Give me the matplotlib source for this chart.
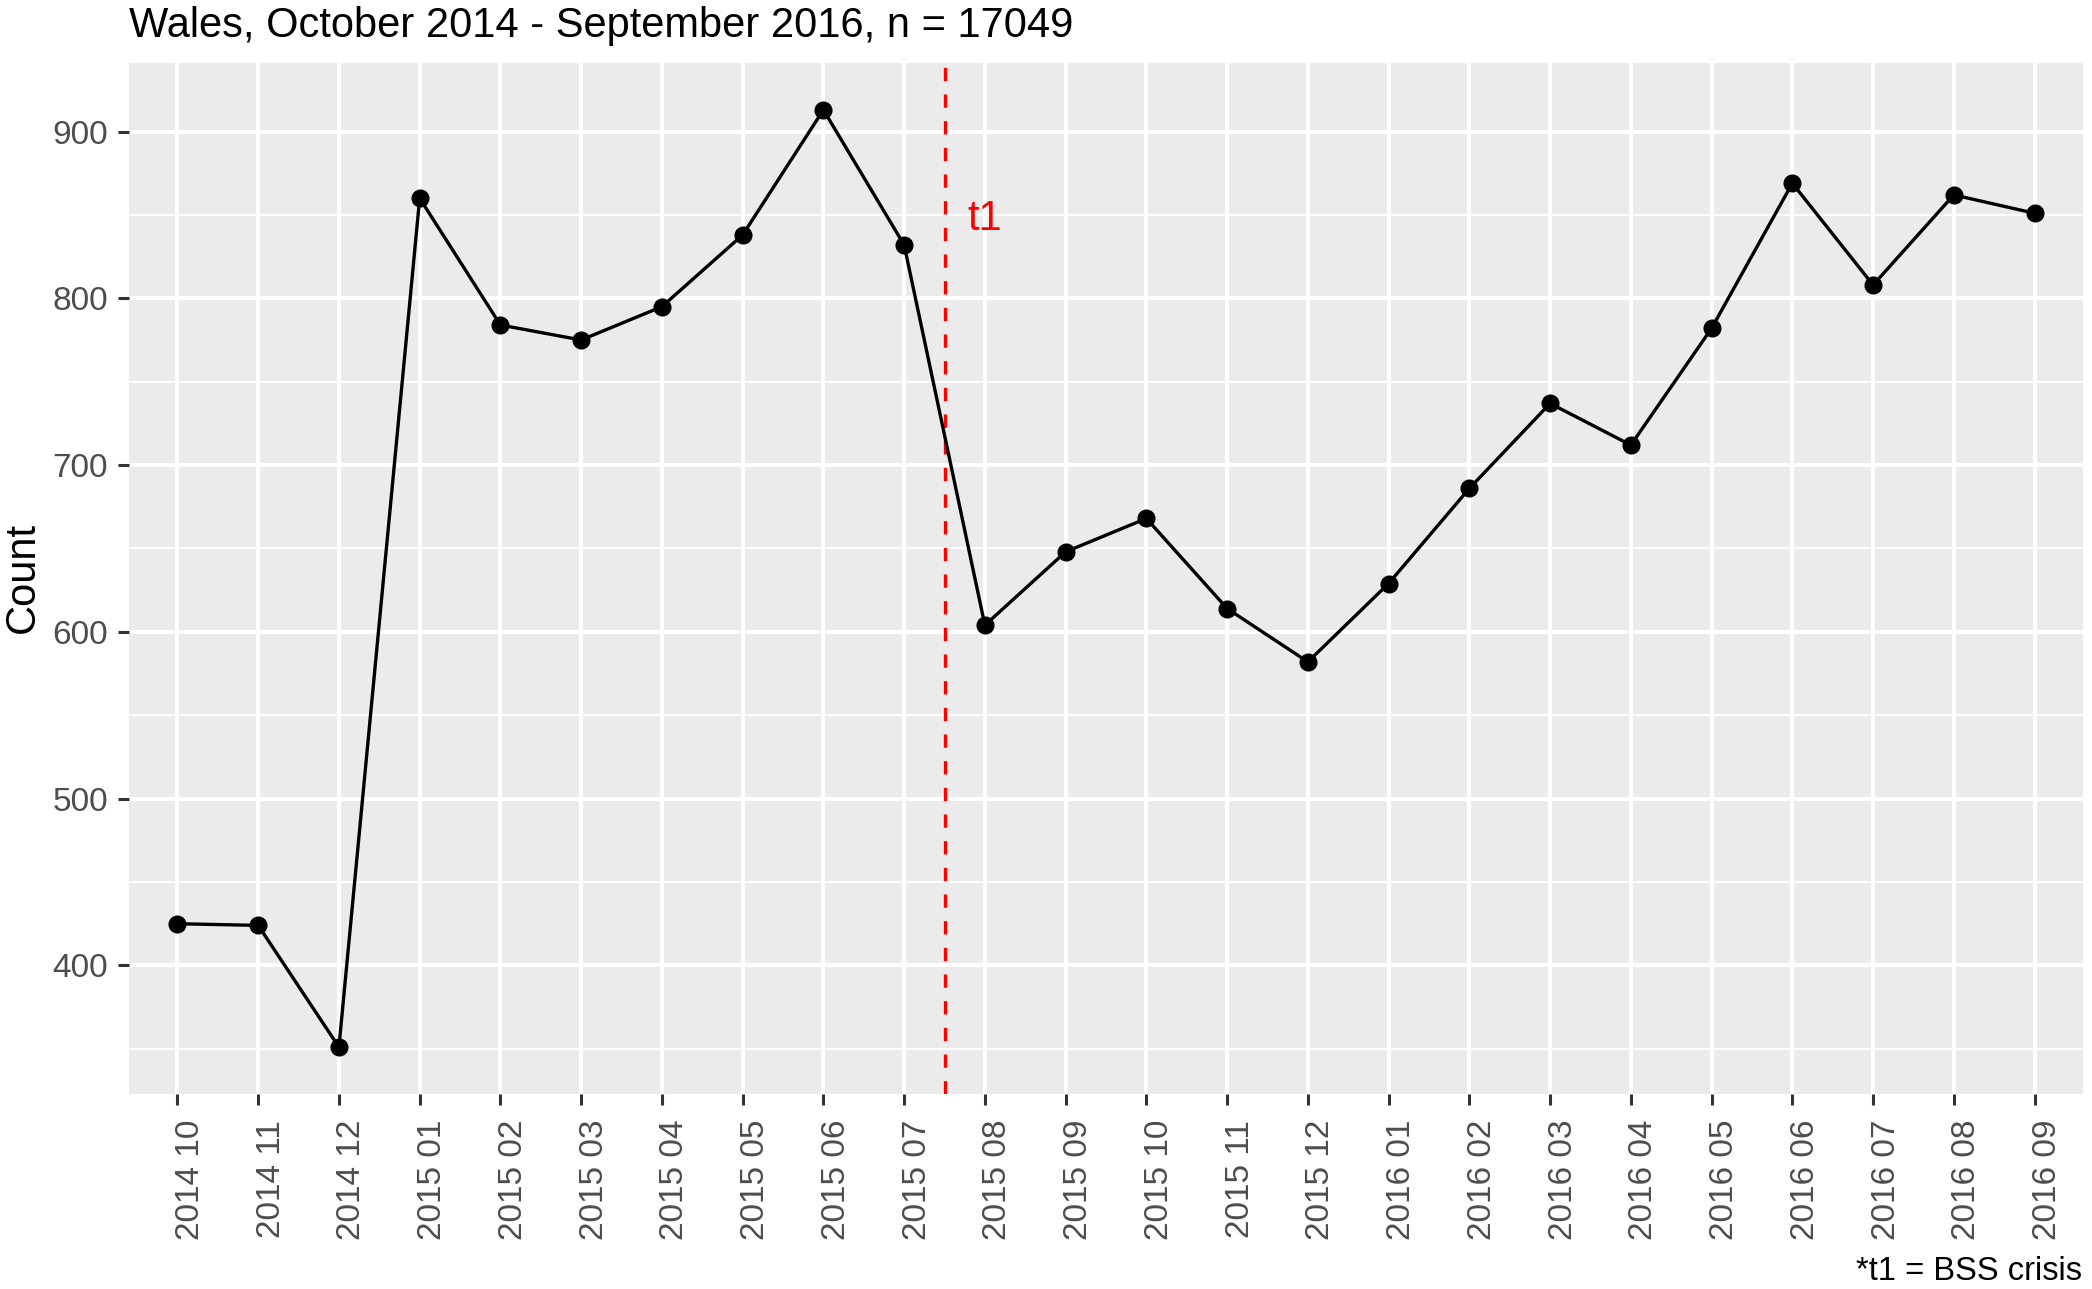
import matplotlib
matplotlib.use("Agg")
import matplotlib.pyplot as plt
from matplotlib.ticker import MultipleLocator, FixedLocator
from matplotlib.transforms import ScaledTranslation

plt.rcParams['font.family'] = ['Liberation Sans', 'DejaVu Sans']

months = ["2014 10", "2014 11", "2014 12",
          "2015 01", "2015 02", "2015 03", "2015 04", "2015 05", "2015 06",
          "2015 07", "2015 08", "2015 09", "2015 10", "2015 11", "2015 12",
          "2016 01", "2016 02", "2016 03", "2016 04", "2016 05", "2016 06",
          "2016 07", "2016 08", "2016 09"]
counts = [425, 424, 351,
          860, 784, 775, 795, 838, 913,
          832, 604, 648, 668, 614, 582,
          629, 686, 737, 712, 782, 869,
          808, 862, 851]
event_pos = 10.5
event_label = "t1"
event_label_x = 11
event_label_y = 850
title = "Wales, October 2014 - September 2016, n = 17049"
ylabel = "Count"
caption = "*t1 = BSS crisis"

W, H = 2092, 1289
fig = plt.figure(figsize=(W / 100, H / 100), dpi=100)
left, right, top, bottom = 129, 2083, 63, 1094
ax = fig.add_axes([left / W, (H - bottom) / H, (right - left) / W, (bottom - top) / H])
ax.set_facecolor("#EBEBEB")
for s in ax.spines.values():
    s.set_visible(False)

x = list(range(1, len(months) + 1))
lo, hi = min(counts), max(counts)
rng = hi - lo
ax.set_xlim(0.4, len(months) + 0.6)
ax.set_ylim(lo - 0.05 * rng, hi + 0.05 * rng)

ax.yaxis.set_major_locator(MultipleLocator(100))
ax.yaxis.set_minor_locator(FixedLocator([350, 450, 550, 650, 750, 850]))
ax.set_xticks(x)
ax.set_xticklabels(months, rotation=90)

ax.grid(which="major", color="white", linewidth=2.9)
ax.grid(which="minor", axis="y", color="white", linewidth=1.4)
ax.set_axisbelow(True)

ax.tick_params(axis="both", which="major", length=8, width=2.2, color="#333333",
               labelsize=24, labelcolor="#4D4D4D", pad=7)
ax.tick_params(axis="x", which="major", pad=10.5)
ax.tick_params(axis="y", which="minor", length=0)

shift = ScaledTranslation(0.13, 0, fig.dpi_scale_trans)
for lab in ax.get_xticklabels():
    lab.set_transform(lab.get_transform() + shift)

ax.plot(x, counts, color="black", linewidth=2.4, zorder=3)
ax.plot(x, counts, "o", color="black", markersize=12, zorder=4)

ax.axvline(event_pos, color="red", linestyle=(0, (4, 4)), linewidth=2.4, zorder=2)
ax.text(event_label_x, event_label_y, event_label, color="red", fontsize=30,
        ha="center", va="center_baseline")

fig.text(23 / W, 1 - 433 * 1.334 / H, ylabel, fontsize=30, rotation=90,
         ha="center", va="center")

fig.text(left / W, 1 - 37 / H, title, fontsize=30, ha="left", va="baseline")
fig.text(2082 / W, 1 - 1280 / H, caption, fontsize=23.5, ha="right", va="baseline")

fig.savefig("out.png", dpi=100)
